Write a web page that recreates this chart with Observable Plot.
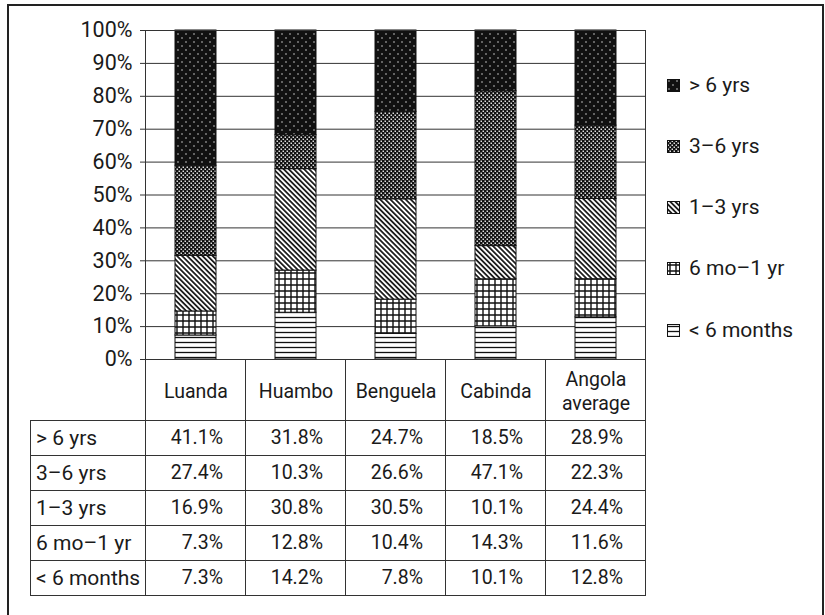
<!DOCTYPE html>
<html><head><meta charset="utf-8">
<script src="https://cdn.jsdelivr.net/npm/d3@7"></script>
<script src="https://cdn.jsdelivr.net/npm/@observablehq/plot@0.6"></script>
<style>
html,body{margin:0;padding:0;background:#fff;}
#wrap{position:relative;width:825px;height:615px;overflow:hidden;font-family:Roboto,sans-serif;color:#1a1a1a;background:#fff;}
#frame{position:absolute;left:7px;top:4px;width:817px;height:640px;border:2px solid #222;box-sizing:border-box;}
#chart{position:absolute;left:0;top:0;}
#tbl{position:absolute;left:30px;top:359px;border-collapse:collapse;table-layout:fixed;width:615px;font-size:19.5px;}
#tbl td{border:1px solid #333;padding:0;height:34px;line-height:20px;white-space:nowrap;}
#tbl tr.head td{height:60px;}
#tbl tr.head td.blank{border-top:none;border-left:none;}
#tbl td.lab{text-align:left;padding-left:5px;font-size:21px;}
#tbl td.val{text-align:right;padding-right:22px;}
.leg{position:absolute;left:667px;display:flex;align-items:center;font-size:21px;height:24px;}
.leg svg{margin-right:9px;}
</style>
</head><body>
<svg width="0" height="0" style="position:absolute">
<defs>
<pattern id="p-lt6m" patternUnits="userSpaceOnUse" width="8" height="5">
  <rect width="8" height="5" fill="#fff"/>
  <line x1="0" x2="8" y1="2.5" y2="2.5" stroke="#111" stroke-width="1.3"/>
</pattern>
<pattern id="p-m6y1" patternUnits="userSpaceOnUse" width="6" height="6">
  <rect width="6" height="6" fill="#fff"/>
  <path d="M0 3H6M3 0V6" stroke="#111" stroke-width="1.4"/>
</pattern>
<pattern id="p-y1y3" patternUnits="userSpaceOnUse" width="8" height="3.6" patternTransform="rotate(45)">
  <rect width="8" height="3.6" fill="#fff"/>
  <line x1="0" x2="8" y1="1.8" y2="1.8" stroke="#111" stroke-width="1.7"/>
</pattern>
<pattern id="p-y3y6" patternUnits="userSpaceOnUse" width="4" height="4">
  <rect width="4" height="4" fill="#111"/>
  <rect x="0.5" y="0.5" width="1.5" height="1.5" fill="#ddd"/>
  <rect x="2.5" y="2.5" width="1.5" height="1.5" fill="#ddd"/>
</pattern>
<pattern id="p-gt6y" patternUnits="userSpaceOnUse" width="8" height="8">
  <rect width="8" height="8" fill="#111"/>
  <circle cx="2" cy="2" r="0.8" fill="#ccc"/>
  <circle cx="6" cy="6" r="0.8" fill="#ccc"/>
</pattern>
</defs></svg>
<div id="wrap">
  <div id="frame"></div>
  <table id="tbl"></table>
  <div id="chart"></div>
  <div id="legend"></div>
</div>
<script>
// ---- data ----
const cities = ["Luanda", "Huambo", "Benguela", "Cabinda", "Angola average"];
// stacking order bottom -> top
const groups = ["< 6 months", "6 mo–1 yr", "1–3 yrs", "3–6 yrs", "> 6 yrs"];
const lt6m = [7.3, 14.2, 7.8, 10.1, 12.8];
const m6y1 = [7.3, 12.8, 10.4, 14.3, 11.6];
const y1y3 = [16.9, 30.8, 30.5, 10.1, 24.4];
const y3y6 = [27.4, 10.3, 26.6, 47.1, 22.3];
const gt6y = [41.1, 31.8, 24.7, 18.5, 28.9];
const yTicks = [0, 0.1, 0.2, 0.3, 0.4, 0.5, 0.6, 0.7, 0.8, 0.9, 1];

const seriesValues = [lt6m, m6y1, y1y3, y3y6, gt6y];
const patId = {"< 6 months": "p-lt6m", "6 mo–1 yr": "p-m6y1", "1–3 yrs": "p-y1y3", "3–6 yrs": "p-y3y6", "> 6 yrs": "p-gt6y"};

const data = [];
groups.forEach((g, i) => cities.forEach((c, j) => data.push({city: c, group: g, value: seriesValues[i][j]})));

const chart = Plot.plot({
  width: 825, height: 615,
  marginTop: 30, marginLeft: 145, marginRight: 180, marginBottom: 256,
  style: {background: "transparent", fontFamily: "Roboto, sans-serif", fontSize: "19.5px", color: "#1a1a1a"},
  x: {domain: cities, paddingInner: 0.59, paddingOuter: 0.295, label: null},
  y: {domain: [0, 1], label: null},
  color: {type: "identity"},
  marks: [
    Plot.gridY(yTicks, {stroke: "#333", strokeOpacity: 1}),
    Plot.barY(data, Plot.stackY({offset: "normalize", x: "city", y: "value", z: "group",
      fill: d => `url(#${patId[d.group]})`, stroke: "#111", strokeWidth: 1})),
    Plot.frame({stroke: "#333"}),
    Plot.axisY(yTicks, {tickSize: 5, tickPadding: 8, tickFormat: d3.format(".0%"), label: null, stroke: "#333", fontSize: 21.5}),
    Plot.axisX({tickSize: 0, tickPadding: 31, lineAnchor: "middle", lineHeight: 1.25,
      tickFormat: d => d.replace(" ", "\n"), label: null})
  ]
});
document.getElementById("chart").appendChild(chart);

// ---- table ----
const tbl = d3.select("#tbl");
const cg = tbl.append("colgroup");
cg.append("col").style("width", "115px");
cities.forEach(() => cg.append("col").style("width", "100px"));
const head = tbl.append("tr").attr("class", "head");
head.append("td").attr("class", "blank");
cities.forEach(() => head.append("td"));
groups.slice().reverse().forEach(g => {
  const i = groups.indexOf(g);
  const tr = tbl.append("tr");
  tr.append("td").attr("class", "lab").text(g);
  seriesValues[i].forEach(v => tr.append("td").attr("class", "val").text(v.toFixed(1) + "%"));
});

// ---- legend ----
const legCenters = [85, 146, 207, 268, 330];
groups.slice().reverse().forEach((g, k) => {
  const item = d3.select("#legend").append("div").attr("class", "leg").style("top", (legCenters[k] - 12) + "px");
  const s = item.append("svg").attr("width", 13).attr("height", 13);
  s.append("rect").attr("x", 0.5).attr("y", 0.5).attr("width", 12).attr("height", 12)
    .attr("fill", `url(#${patId[g]})`).attr("stroke", "#111");
  item.append("span").text(g);
});
</script>
</body></html>
